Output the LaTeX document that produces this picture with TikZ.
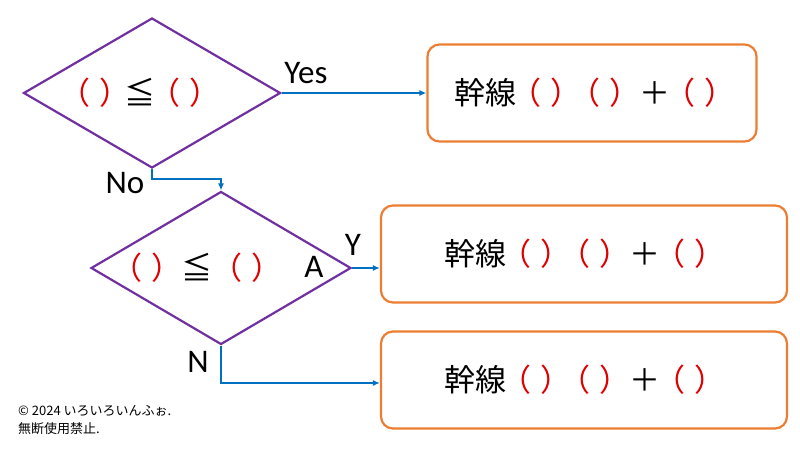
\documentclass[tikz,border=0pt]{standalone}
\usepackage{fontspec}
\setmainfont{Noto Sans CJK JP}
\newfontfamily\latin{Carlito}
\usetikzlibrary{shapes.geometric,arrows.meta}
\definecolor{dpurple}{HTML}{7030A0}
\definecolor{dorange}{HTML}{ED7D31}
\definecolor{dblue}{HTML}{0070C0}
\definecolor{dred}{HTML}{E00000}
\newcommand{\rp}[1]{\textcolor{dred}{#1}}
\newcommand{\slot}{\kern-0.2em\rp{（}\hspace{0.3em}\rp{）}\kern-0.2em}
\tikzset{
  cond/.style={draw=dpurple, line width=2.2pt, diamond, inner sep=0pt},
  act/.style={draw=dorange, line width=2.2pt, rounded corners=12pt, minimum height=97pt, inner sep=0pt},
  flow/.style={draw=dblue, line width=1.8pt, -{Latex[length=7pt,width=6pt]}},
  txt/.style={font=\fontsize{31}{32}\selectfont, inner sep=0pt},
  lbl/.style={font=\latin\fontsize{33}{34}\selectfont, inner sep=0pt}
}
\begin{document}
\begin{tikzpicture}[x=1pt,y=-1pt]
\useasboundingbox (0,0) rectangle (800,450);
% conditions
\node[cond, minimum width=257pt, minimum height=150pt] (c1) at (152,93) {};
\node[txt] (t1) at (140,93) {\slot≦\slot};
\node[cond, minimum width=260pt, minimum height=153pt] (c2) at (221,268) {};
\node[txt] (t2) at (197,268) {\slot\,≦\,\slot};
\node[lbl] (a2) at (314,267) {A};
% actions
\node[act, minimum width=329pt] (b1) at (592,93) {};
\node[txt] (bt1) at (592,93) {幹線\slot\slot\,＋\slot};
\node[act, minimum width=406pt] (b2) at (584,254) {};
\node[txt] (bt2) at (582,254) {幹線\slot\slot\,＋\slot};
\node[act, minimum width=406pt] (b3) at (584,380) {};
\node[txt] (bt3) at (582,380) {幹線\slot\slot\,＋\slot};
% connectors
\draw[flow] (c1.east) -- (b1.west |- c1.east);
\draw[flow] (c1.south) -- ++(0,10) -| (c2.north);
\draw[flow] (c2.east) -- (b2.west |- c2.east);
\draw[flow] (c2.south) |- (b3.west |- 0,383);
% labels
\node[lbl] (yes) at (306,73) {Yes};
\node[lbl] (no) at (125,183) {No};
\node[lbl] (y) at (353,245) {Y};
\node[lbl] (n) at (198,362) {N};
\node[anchor=west, font=\fontsize{13}{18}\selectfont, align=left, inner sep=0pt] (copy) at (18,420) {© 2024 いろいろいんふぉ.\\無断使用禁止.};
\end{tikzpicture}
\end{document}
